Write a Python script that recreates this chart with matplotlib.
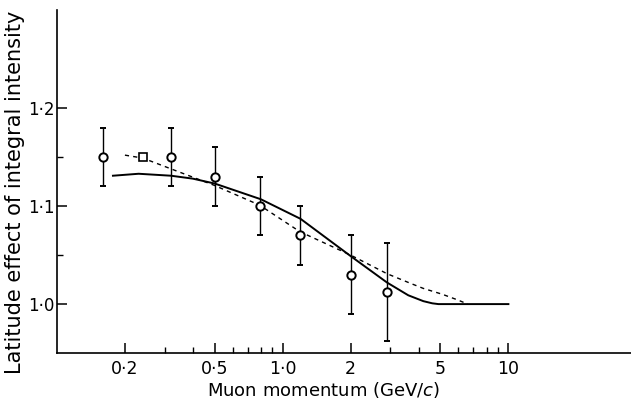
import numpy as np
import matplotlib.pyplot as plt
from matplotlib.ticker import FixedLocator, NullFormatter

# measured points (open circles)
momentum = [0.16, 0.32, 0.50, 0.79, 1.19, 2.0, 2.9]
latitude = [1.150, 1.150, 1.130, 1.100, 1.070, 1.030, 1.012]
err = [0.030, 0.030, 0.030, 0.030, 0.030, 0.040, 0.050]

# single square point
sq_x = [0.24]
sq_y = [1.150]

# solid curve
solid_x = [0.177, 0.23, 0.32, 0.40, 0.50, 0.80, 1.2, 2.0, 2.9, 3.6, 4.2, 4.6, 4.9, 10.0]
solid_y = [1.131, 1.133, 1.131, 1.128, 1.123, 1.107, 1.087, 1.049, 1.022, 1.009, 1.003, 1.0008, 1.000, 1.000]

# dashed curve
dash_x = [0.20, 0.24, 0.32, 0.50, 0.79, 1.19, 2.0, 2.9, 3.7, 4.2, 5.1, 6.0, 6.6]
dash_y = [1.152, 1.149, 1.138, 1.121, 1.101, 1.074, 1.050, 1.031, 1.021, 1.016, 1.010, 1.004, 1.000]

xticks = [0.2, 0.5, 1.0, 2, 5, 10]
xticklabels = ["0·2", "0·5", "1·0", "2", "5", "10"]
xminor = [0.3, 0.4, 0.6, 0.7, 0.8, 0.9, 3, 4, 6, 7, 8, 9]
yticks = [1.0, 1.1, 1.2]
yticklabels = ["1·0", "1·1", "1·2"]
yminor = [1.05, 1.15]

fig = plt.figure(figsize=(6.31, 4.04), dpi=100)
ax = fig.add_axes([0.0903, 0.126, 0.91, 0.849])

ax.plot(solid_x, solid_y, color="black", lw=1.4)
ax.plot(dash_x, dash_y, color="black", lw=1.0, ls=(0, (3, 3)))
ax.errorbar(momentum, latitude, yerr=err, fmt="o", mfc="white", mec="black",
            ecolor="black", ms=6, mew=1.4, elinewidth=1.0, capsize=2.5, capthick=1.0)
ax.plot(sq_x, sq_y, "s", mfc="white", mec="black", ms=6, mew=1.2)

ax.set_xscale("log")
ax.set_xlim(0.1, 35)
ax.set_ylim(0.95, 1.30)

ax.xaxis.set_major_locator(FixedLocator(xticks))
ax.set_xticklabels(xticklabels)
ax.xaxis.set_minor_locator(FixedLocator(xminor))
ax.xaxis.set_minor_formatter(NullFormatter())
ax.set_yticks(yticks)
ax.set_yticklabels(yticklabels)
ax.set_yticks(yminor, minor=True)

ax.spines["top"].set_visible(False)
ax.spines["right"].set_visible(False)
ax.spines["left"].set_linewidth(1.2)
ax.spines["bottom"].set_linewidth(1.2)
ax.tick_params(axis="both", which="major", direction="in", length=7, width=1.1)
ax.tick_params(axis="x", which="major", labelsize=12.5, pad=5)
ax.tick_params(axis="y", which="major", labelsize=12, pad=2)
ax.tick_params(axis="both", which="minor", direction="in", length=4, width=1.0)

ax.set_xlabel("Muon momentum (GeV/$c$)", fontsize=13, labelpad=2)
ax.xaxis.set_label_coords(0.465, -0.078)
ax.set_ylabel("Latitude effect of integral intensity", fontsize=15,
              family=["Liberation Sans Narrow", "DejaVu Sans"])
ax.yaxis.set_label_coords(-0.055, 0.47)

fig.savefig("out.png", dpi=100)
